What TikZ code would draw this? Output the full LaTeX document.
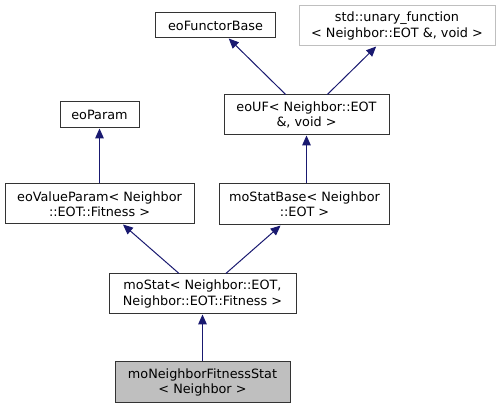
\documentclass[tikz,border=0pt]{standalone}
\usepackage{fontspec}
\setmainfont{DejaVu Sans}
\usetikzlibrary{arrows.meta}
\definecolor{edgeblue}{RGB}{25,25,112}
\definecolor{leafgray}{RGB}{191,191,191}
\tikzset{
  cls/.style={draw=black!80, line width=0.75pt, inner sep=0pt, align=center,
    font=\fontsize{9.6}{11.4}\selectfont},
  inherit/.style={draw=edgeblue, line width=0.75pt,
    -{Triangle[length=7.5pt,width=6.5pt,fill=edgeblue]}}
}
\begin{document}
\begin{tikzpicture}[x=0.75pt,y=-0.75pt]
    \useasboundingbox (0,0) rectangle (500,409);
    % Basisklassen oben
    \node[cls, minimum width=120*0.75pt, minimum height=25*0.75pt] (funct) at (215.5,25.5) {eoFunctorBase};
    \node[cls, draw=leafgray, minimum width=196*0.75pt, minimum height=40*0.75pt] (unary) at (397,26) {std::unary\_function\\\textless{} Neighbor::EOT \&, void \textgreater{}};
    \node[cls, minimum width=79*0.75pt, minimum height=26*0.75pt] (param) at (99.5,115) {eoParam};
    \node[cls, minimum width=165*0.75pt, minimum height=40*0.75pt] (uf) at (306.5,115) {eoUF\textless{} Neighbor::EOT\\\&, void \textgreater{}};

    % mittlere Ebene
    \node[cls, minimum width=189*0.75pt, minimum height=40*0.75pt] (vparam) at (99.5,204) {eoValueParam\textless{} Neighbor\\::EOT::Fitness \textgreater{}};
    \node[cls, minimum width=170*0.75pt, minimum height=41*0.75pt] (statbase) at (304.5,204.5) {moStatBase\textless{} Neighbor\\::EOT \textgreater{}};
    \node[cls, minimum width=187*0.75pt, minimum height=40*0.75pt] (stat) at (202.5,294) {moStat\textless{} Neighbor::EOT,\\ Neighbor::EOT::Fitness \textgreater{}};

    % abgeleitete Klasse
    \node[cls, fill=leafgray, minimum width=175*0.75pt, minimum height=41*0.75pt] (leaf) at (202.5,382.5) {moNeighborFitnessStat\\\textless{} Neighbor \textgreater{}};

    % Vererbungspfeile
    \draw[inherit] (uf) -- (funct);
    \draw[inherit] (uf) -- (unary);
    \draw[inherit] (vparam) -- (param);
    \draw[inherit] (statbase.north -| uf.south) -- (uf.south);
    \draw[inherit] (stat) -- (vparam);
    \draw[inherit] (stat) -- (statbase);
    \draw[inherit] (leaf) -- (stat);
\end{tikzpicture}
\end{document}
